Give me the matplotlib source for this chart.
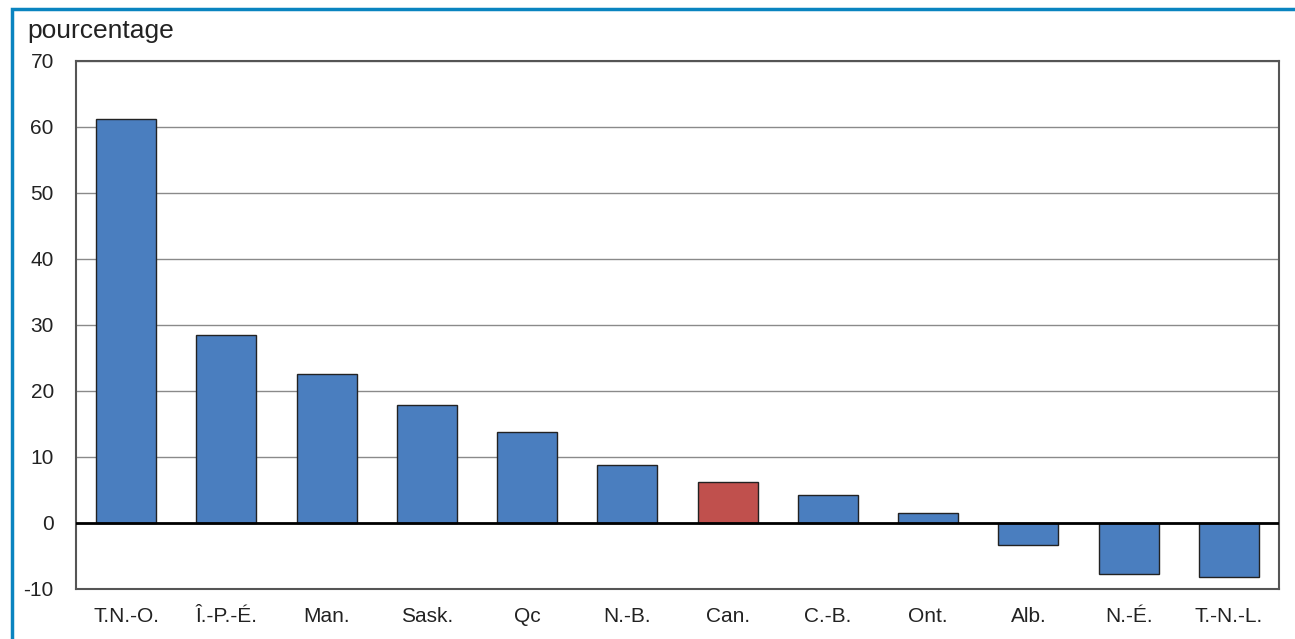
import numpy as np
import matplotlib.pyplot as plt
from matplotlib.patches import Rectangle

# provinces / territories, change in percent
regions = ['T.N.-O.', 'Î.-P.-É.', 'Man.', 'Sask.', 'Qc', 'N.-B.', 'Can.', 'C.-B.', 'Ont.', 'Alb.', 'N.-É.', 'T.-N.-L.']
values = [61.2, 28.5, 22.6, 17.9, 13.8, 8.8, 6.2, 4.2, 1.5, -3.3, -7.7, -8.2]
yticks = [-10, 0, 10, 20, 30, 40, 50, 60, 70]

blue = '#4a7ebf'
red = '#c0504d'
colors = [red if r == 'Can.' else blue for r in regions]

plt.rcParams['font.family'] = ['Liberation Sans', 'DejaVu Sans']
plt.rcParams['axes.unicode_minus'] = False

fig = plt.figure(figsize=(12.95, 6.39), dpi=100)
ax = fig.add_axes([76/1295, 1 - 589/639, (1279-76)/1295, (589-61)/639])

x = np.arange(len(regions))
ax.bar(x, values, width=0.6, color=colors, edgecolor='#222222', linewidth=1.0, zorder=3)
ax.axhline(0, color='black', linewidth=2, zorder=4)

ax.set_xlim(-0.5, len(regions) - 0.5)
ax.set_ylim(-10, 70)
ax.set_yticks(yticks)
ax.set_xticks(x)
ax.set_xticklabels(regions)
ax.tick_params(axis='both', length=0, labelsize=15, colors='#222222')
ax.tick_params(axis='x', pad=13)
ax.tick_params(axis='y', pad=16)
ax.grid(axis='y', color='#8a8a8a', linewidth=1.0, zorder=0)
for s in ax.spines.values():
    s.set_color('#555555')
    s.set_linewidth(1.5)

fig.text(27/1295, 1 - 31/639, 'pourcentage', fontsize=19, va='center', ha='left', color='#222222')

# blue frame around the chart
fig.patches.append(Rectangle((12/1295, -0.1), 1.2, 1 - 9/639 + 0.1, transform=fig.transFigure,
                             fill=False, edgecolor='#0a84c0', linewidth=2.5))

fig.savefig('out.png', dpi=100)
